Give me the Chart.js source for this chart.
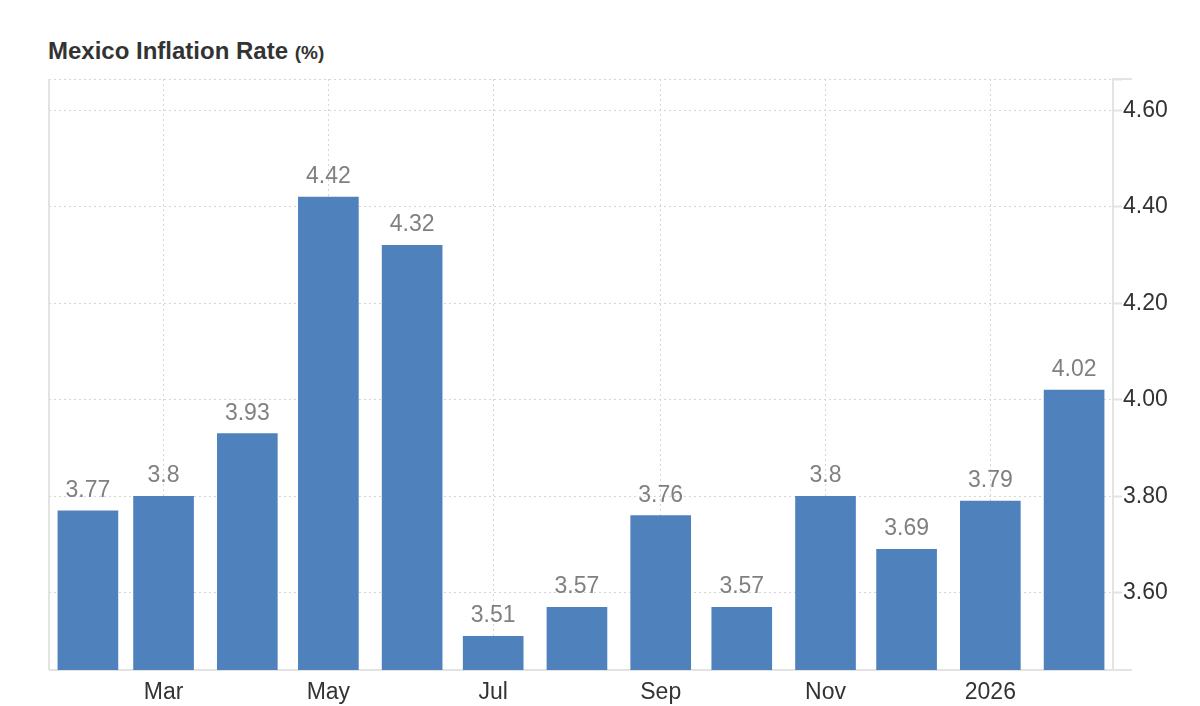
<!DOCTYPE html>
<html>
<head>
<meta charset="utf-8">
<title>Mexico Inflation Rate</title>
<script src="https://cdn.jsdelivr.net/npm/chart.js@4/dist/chart.umd.min.js"></script>
<style>
  html, body { margin: 0; padding: 0; background: #fff; }
  .wrap { position: relative; width: 1200px; height: 706px; }
  .title {
    position: absolute; left: 48px; top: 39px;
    font: bold 24px "Liberation Sans", Arial, sans-serif; line-height: 24px;
    color: #333; white-space: nowrap;
  }
  .title .unit { font-size: 19px; }
  canvas { position: absolute; left: 0; top: 0; }
</style>
</head>
<body>
<div class="wrap">
  <div class="title">Mexico Inflation Rate <span class="unit">(%)</span></div>
  <canvas id="chart" width="1200" height="706"></canvas>
</div>
<script>
// monthly data, Feb 2025 .. Feb 2026
const months = ['2025-02', '2025-03', '2025-04', '2025-05', '2025-06', '2025-07', '2025-08',
                '2025-09', '2025-10', '2025-11', '2025-12', '2026-01', '2026-02'];
const rates = [3.77, 3.8, 3.93, 4.42, 4.32, 3.51, 3.57, 3.76, 3.57, 3.8, 3.69, 3.79, 4.02];

const tickMonths = ['2025-03', '2025-05', '2025-07', '2025-09', '2025-11', '2026-01'];
const tickLabels = ['Mar', 'May', 'Jul', 'Sep', 'Nov', '2026'];
const yTicks = [3.6, 3.8, 4.0, 4.2, 4.4, 4.6];

const FONT = '"Liberation Sans", Arial, sans-serif';
const LINE = '#e3e3e3';
const GRID = '#d6d6d6';

// days since first month -> acts like a time axis
function dayOf(m) {
    const [y, mo] = m.split('-').map(Number);
    return (Date.UTC(y, mo - 1, 1) - Date.UTC(2025, 1, 1)) / 86400000;
}

const points = months.map((m, i) => ({ x: dayOf(m), y: rates[i] }));
const tickDays = tickMonths.map(dayOf);
const lastDay = dayOf(months[months.length - 1]);

const valueLabels = {
    id: 'valueLabels',
    afterDatasetsDraw(chart) {
        const ctx = chart.ctx;
        const meta = chart.getDatasetMeta(0);
        ctx.save();
        ctx.font = '23px ' + FONT;
        ctx.fillStyle = '#808080';
        ctx.textAlign = 'center';
        ctx.textBaseline = 'alphabetic';
        meta.data.forEach((bar, i) => {
            ctx.fillText(String(rates[i]), bar.x, bar.y - 14);
        });
        ctx.restore();
    }
};

// left frame line + axis lines running past the right axis
const frame = {
    id: 'frame',
    beforeDatasetsDraw(chart) {
        const { ctx, chartArea: a } = chart;
        ctx.save();
        ctx.strokeStyle = LINE;
        ctx.lineWidth = 2;
        ctx.beginPath();
        ctx.moveTo(a.left, a.top);
        ctx.lineTo(a.left, a.bottom);
        ctx.moveTo(a.left, a.bottom);
        ctx.lineTo(a.right + 19, a.bottom);
        ctx.moveTo(a.right, a.top);
        ctx.lineTo(a.right + 19, a.top);
        ctx.stroke();
        ctx.restore();
    }
};

new Chart(document.getElementById('chart'), {
    type: 'bar',
    data: {
        datasets: [{
            data: points,
            backgroundColor: '#4f81bd',
            borderWidth: 0,
            barThickness: 60
        }]
    },
    options: {
        responsive: false,
        animation: false,
        layout: { padding: { left: 49, top: 79, right: 0, bottom: 0 } },
        plugins: {
            legend: { display: false },
            tooltip: { enabled: false }
        },
        scales: {
            x: {
                type: 'linear',
                offset: false,
                min: -14.4,
                max: lastDay + 14.4,
                afterBuildTicks: scale => {
                    scale.ticks = tickDays.map(v => ({ value: v }));
                },
                afterFit: scale => { scale.height = 36; },
                grid: { color: GRID, drawTicks: false, offset: false },
                border: { display: false, dash: [2, 3] },
                ticks: {
                    color: '#333',
                    font: { family: FONT, size: 23 },
                    padding: 9,
                    maxRotation: 0,
                    autoSkip: false,
                    callback: (v) => tickLabels[tickDays.indexOf(v)]
                }
            },
            y: {
                position: 'right',
                min: 3.44,
                max: 4.665,
                afterBuildTicks: scale => {
                    scale.ticks = yTicks.concat([4.665]).map(v => ({ value: v }));
                },
                afterFit: scale => { scale.width = 87; },
                grid: {
                    color: GRID,
                    tickColor: LINE,
                    tickLength: 9,
                    tickWidth: 2,
                    tickBorderDash: []
                },
                border: { display: true, color: LINE, width: 2, dash: [2, 3] },
                ticks: {
                    color: '#333',
                    font: { family: FONT, size: 23 },
                    padding: 1,
                    callback: (v) => yTicks.includes(v) ? v.toFixed(2) : ''
                }
            }
        }
    },
    plugins: [frame, valueLabels]
});
</script>
</body>
</html>
